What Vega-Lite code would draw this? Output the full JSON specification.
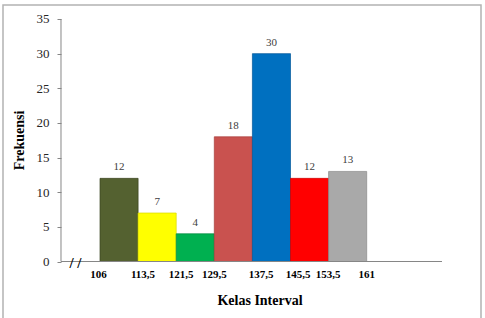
{
  "$schema": "https://vega.github.io/schema/vega-lite/v6.json",
  "width": 478,
  "height": 316,
  "autosize": {"type": "none"},
  "padding": {"left": 3, "top": 5, "right": 4, "bottom": 0},
  "background": "white",
  "config": {
    "view": {"stroke": "#b3b3b3", "strokeWidth": 1.5},
    "font": "Liberation Serif"
  },
  "datasets": {
    "bars": [
      {"kelas": "106-113", "lo": 0, "hi": 1, "mid": 0.5, "f": 12},
      {"kelas": "114-121", "lo": 1, "hi": 2, "mid": 1.5, "f": 7},
      {"kelas": "122-129", "lo": 2, "hi": 3, "mid": 2.5, "f": 4},
      {"kelas": "130-137", "lo": 3, "hi": 4, "mid": 3.5, "f": 18},
      {"kelas": "138-145", "lo": 4, "hi": 5, "mid": 4.5, "f": 30},
      {"kelas": "146-153", "lo": 5, "hi": 6, "mid": 5.5, "f": 12},
      {"kelas": "154-161", "lo": 6, "hi": 7, "mid": 6.5, "f": 13}
    ],
    "ticks": [
      {"label": "106", "pos": -0.04},
      {"label": "113,5", "pos": 1.13},
      {"label": "121,5", "pos": 2.13},
      {"label": "129,5", "pos": 3.0},
      {"label": "137,5", "pos": 4.23},
      {"label": "145,5", "pos": 5.2},
      {"label": "153,5", "pos": 5.99},
      {"label": "161", "pos": 7.0}
    ],
    "one": [{"t": "/ /"}],
    "xtitle": [{"t": "Kelas Interval"}]
  },
  "layer": [
    {
      "data": {"name": "bars"},
      "mark": {"type": "bar", "strokeWidth": 1, "strokeOpacity": 0.7},
      "encoding": {
        "x": {"field": "lo", "type": "quantitative", "scale": {"domain": [-2.546, 10.0], "nice": false, "zero": false}, "axis": null},
        "x2": {"field": "hi"},
        "y": {
          "field": "f", "type": "quantitative",
          "scale": {"domain": [-8.587, 37.02], "nice": false, "zero": false},
          "axis": {
            "values": [0, 5, 10, 15, 20, 25, 30, 35],
            "offset": -58,
            "domain": false,
            "grid": false,
            "tickSize": 4,
            "tickColor": "#868686",
            "labelFont": "Liberation Serif",
            "labelFontSize": 13,
            "labelColor": "#262626",
            "labelPadding": 8,
            "title": "Frekuensi",
            "titleFont": "Liberation Serif",
            "titleFontSize": 14,
            "titleFontWeight": "bold",
            "titleColor": "black",
            "titlePadding": 10,
            "titleY": 135
          }
        },
        "y2": {"datum": 0},
        "color": {
          "field": "kelas", "type": "nominal",
          "scale": {
            "domain": ["106-113", "114-121", "122-129", "130-137", "138-145", "146-153", "154-161"],
            "range": ["#546130", "#FFFF00", "#00B050", "#C9524F", "#0070C0", "#FF0000", "#A9A9A9"]
          },
          "legend": null
        },
        "stroke": {
          "field": "kelas", "type": "nominal",
          "scale": {
            "domain": ["106-113", "114-121", "122-129", "130-137", "138-145", "146-153", "154-161"],
            "range": ["#3b4520", "#d8d800", "#008a3e", "#a83f3c", "#00579a", "#cc0000", "#8a8a8a"]
          },
          "legend": null
        }
      }
    },
    {
      "data": {"name": "bars"},
      "mark": {"type": "text", "baseline": "alphabetic", "dy": -8, "fontSize": 11, "color": "#404040", "font": "Liberation Serif"},
      "encoding": {
        "x": {"field": "mid", "type": "quantitative"},
        "y": {"field": "f", "type": "quantitative"},
        "text": {"field": "f", "type": "quantitative"}
      }
    },
    {
      "data": {"name": "one"},
      "mark": {"type": "rule", "color": "#868686", "strokeWidth": 1},
      "encoding": {
        "x": {"datum": -1.024, "type": "quantitative"},
        "y": {"datum": 0, "type": "quantitative"},
        "y2": {"datum": 35}
      }
    },
    {
      "data": {"name": "one"},
      "mark": {"type": "rule", "color": "#868686", "strokeWidth": 1},
      "encoding": {
        "x": {"datum": -1.024, "type": "quantitative"},
        "x2": {"datum": 8.976},
        "y": {"datum": 0, "type": "quantitative"}
      }
    },
    {
      "data": {"name": "ticks"},
      "mark": {"type": "text", "baseline": "middle", "align": "center", "fontSize": 11, "fontWeight": "bold", "color": "black", "font": "Liberation Serif"},
      "encoding": {
        "x": {"field": "pos", "type": "quantitative"},
        "y": {"datum": -2.0, "type": "quantitative"},
        "text": {"field": "label"}
      }
    },
    {
      "data": {"name": "one"},
      "mark": {"type": "text", "baseline": "middle", "align": "center", "fontSize": 15, "fontWeight": "bold", "color": "black", "font": "Liberation Serif"},
      "encoding": {
        "x": {"datum": -0.643, "type": "quantitative"},
        "y": {"datum": -0.2, "type": "quantitative"},
        "text": {"field": "t"}
      }
    },
    {
      "data": {"name": "xtitle"},
      "mark": {"type": "text", "baseline": "middle", "align": "center", "fontSize": 14, "fontWeight": "bold", "color": "black", "font": "Liberation Serif"},
      "encoding": {
        "x": {"datum": 4.2, "type": "quantitative"},
        "y": {"datum": -5.7, "type": "quantitative"},
        "text": {"field": "t"}
      }
    }
  ]
}
